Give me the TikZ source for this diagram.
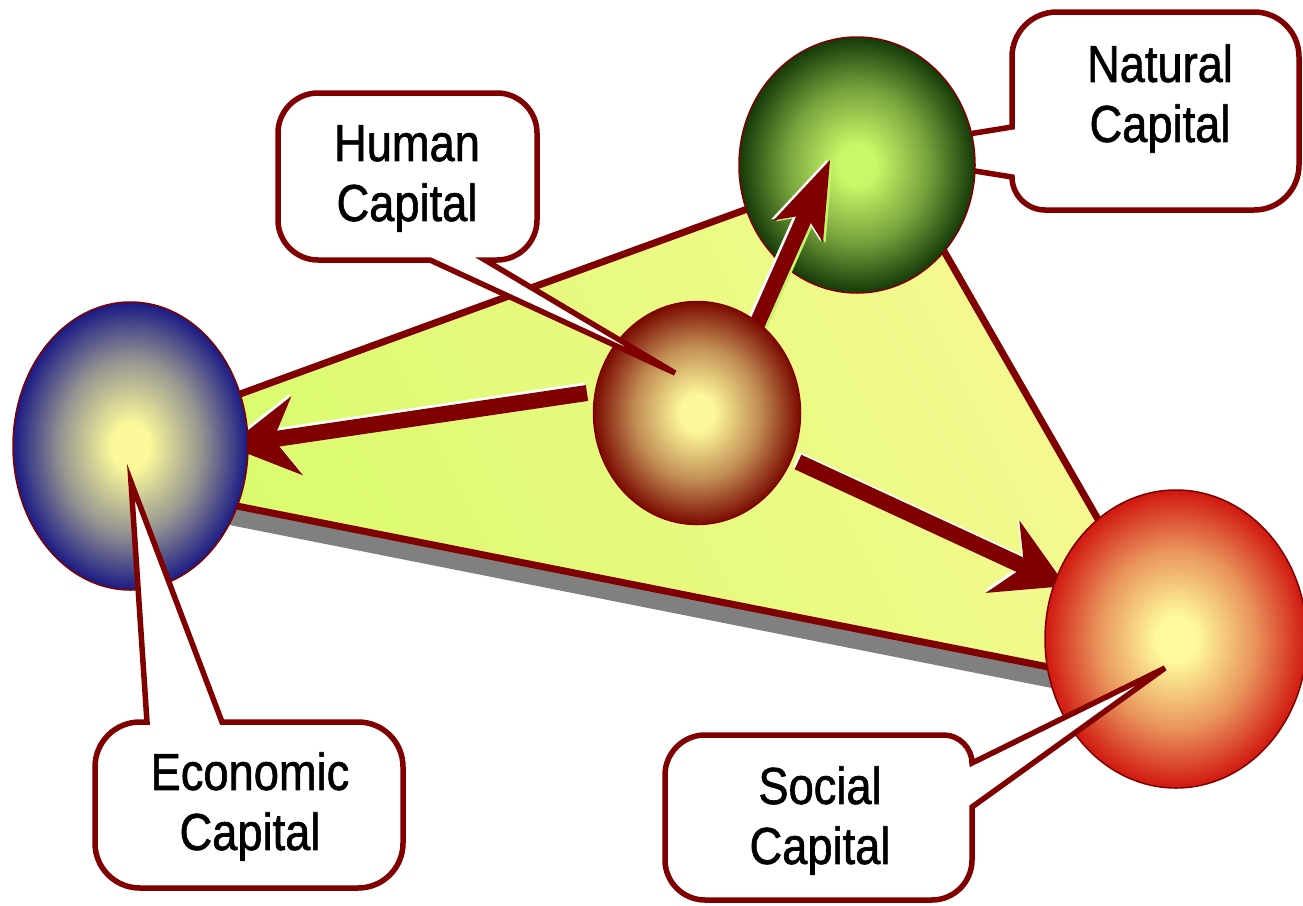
\documentclass[tikz,border=0pt]{standalone}
\usepackage{fontspec}
\setmainfont[FakeStretch=0.87,FakeBold=1.2]{Liberation Sans}
\usetikzlibrary{shapes.geometric,arrows.meta}
\definecolor{dred}{HTML}{800000}
\definecolor{shadowgray}{HTML}{808080}
\definecolor{trigreen}{HTML}{D6FB6A}
\definecolor{tripale}{HTML}{F7F993}
\definecolor{lime}{HTML}{C6F56A}
\definecolor{ecoin}{HTML}{FBF99A}
\definecolor{ecoout}{HTML}{1A1A85}
\definecolor{humin}{HTML}{FDF99A}
\definecolor{humout}{HTML}{7A0A00}
\definecolor{natin}{HTML}{C8F868}
\definecolor{natout}{HTML}{143A08}
\definecolor{socin}{HTML}{FEF99A}
\definecolor{socout}{HTML}{D01810}
\colorlet{ecomid}{ecoin!55!ecoout}
\colorlet{hummid}{humin!55!humout}
\colorlet{natmid}{natin!55!natout}
\colorlet{socmid}{socin!55!socout}
\pgfdeclareradialshading{ecoshade}{\pgfpoint{0bp}{0bp}}{color(0bp)=(ecoin); color(4bp)=(ecoin); color(15bp)=(ecomid); color(25bp)=(ecoout); color(50bp)=(ecoout)}
\pgfdeclareradialshading{humshade}{\pgfpoint{0bp}{0bp}}{color(0bp)=(humin); color(4bp)=(humin); color(15bp)=(hummid); color(25bp)=(humout); color(50bp)=(humout)}
\pgfdeclareradialshading{natshade}{\pgfpoint{0bp}{0bp}}{color(0bp)=(natin); color(4bp)=(natin); color(15bp)=(natmid); color(25bp)=(natout); color(50bp)=(natout)}
\pgfdeclareradialshading{socshade}{\pgfpoint{0bp}{0bp}}{color(0bp)=(socin); color(4bp)=(socin); color(15bp)=(socmid); color(25bp)=(socout); color(50bp)=(socout)}
\begin{document}
\begin{tikzpicture}[x=1pt,y=-1pt,
  ball/.style={ellipse, draw=dred, line width=1.5pt, inner sep=0pt, outer sep=0pt, shade},
  bigarr/.style={line width=16pt, -{Stealth[length=70pt,width=80pt,inset=24pt,line width=0pt]}},
  smallarr/.style={line width=16pt, -{Stealth[length=78pt,width=54pt,inset=18pt,line width=0pt]}},
  callout/.style={draw=dred, line width=5.5pt, fill=white, line join=miter},
  lbl/.style={font=\fontsize{52}{60}\selectfont, align=center, inner sep=0pt, text=black}]
\useasboundingbox (0,0) rectangle (1303,905);
\fill[white] (0,0) rectangle (1303,905);
% triangle
\coordinate (tA) at (40,467);
\coordinate (tB) at (890,157);
\coordinate (tC) at (1200,697);
\fill[shadowgray] ([shift={(-2,20)}]tA) -- ([shift={(-2,20)}]tB) -- ([shift={(-2,20)}]tC) -- cycle;
\shade[top color=trigreen, bottom color=tripale, shading angle=117] (tA) -- (tB) -- (tC) -- cycle;
\draw[dred, line width=7pt, line join=miter] (tA) -- (tB) -- (tC) -- cycle;
% natural callout (behind ball)
\coordinate (nattip) at (857,152);
\path[callout] (1057,12) -- (1254,12) .. controls (1279,12) and (1299,32) .. (1299,57) -- (1299,165) .. controls (1299,190) and (1279,210) .. (1254,210) -- (1045,210) .. controls (1027,210) and (1012,195) .. (1012,177) -- (nattip) -- (1012,127) -- (1012,57) .. controls (1012,32) and (1032,12) .. (1057,12) -- cycle;
% arrows behind balls
\coordinate (ecoS) at (587,393);
\coordinate (ecoT) at (228,446);
\coordinate (socS) at (798,462);
\coordinate (socT) at (1066,586);
\draw[bigarr, white] ([shift={(-1.5,-2.5)}]ecoS) -- ([shift={(-1.5,-2.5)}]ecoT);
\draw[bigarr, dred] (ecoS) -- (ecoT);
\draw[bigarr, white] ([shift={(-1.5,-2.5)}]socS) -- ([shift={(-1.5,-2.5)}]socT);
\draw[bigarr, dred] (socS) -- (socT);
% balls
\node[ball, minimum width=235pt, minimum height=288pt, shading=ecoshade] (eco) at (130.5,446) {};
\node[ball, minimum width=262pt, minimum height=298pt, shading=socshade] (soc) at (1176,639) {};
\node[ball, minimum width=236pt, minimum height=256pt, shading=natshade] (nat) at (857,165) {};
% natural arrow
\coordinate (natS) at (750,340);
\coordinate (natT) at (830,160);
\draw[smallarr, lime] ([shift={(2.5,1)}]natS) -- ([shift={(2.5,1)}]natT);
\draw[smallarr, white] ([shift={(-2.5,-1)}]natS) -- ([shift={(-2.5,-1)}]natT);
\draw[smallarr, dred] (natS) -- (natT);
\node[ball, minimum width=207pt, minimum height=223pt, shading=humshade] (hum) at (697,413) {};
% callouts on top
\coordinate (humtip) at (675,373);
\path[callout] (318,93) -- (497,93) .. controls (519,93) and (537,111) .. (537,133) -- (537,220) .. controls (537,242) and (519,260) .. (497,260) -- (485,260) -- (humtip) -- (430,260) -- (318,260) .. controls (296,260) and (278,242) .. (278,220) -- (278,133) .. controls (278,111) and (296,93) .. (318,93) -- cycle;
\coordinate (ecotip) at (131,482);
\path[callout] (140,722) -- (147,722) -- (ecotip) -- (222,722) -- (358,722) .. controls (383,722) and (403,742) .. (403,767) -- (403,843) .. controls (403,868) and (383,888) .. (358,888) -- (140,888) .. controls (115,888) and (95,868) .. (95,843) -- (95,767) .. controls (95,742) and (115,722) .. (140,722) -- cycle;
\coordinate (soctip) at (1165,668);
\path[callout] (705,735) -- (944,735) .. controls (959,735) and (972,748) .. (972,763) -- (soctip) -- (972,807) -- (972,860) .. controls (972,882) and (954,900) .. (932,900) -- (705,900) .. controls (683,900) and (665,882) .. (665,860) -- (665,775) .. controls (665,753) and (683,735) .. (705,735) -- cycle;
% labels
\node[lbl] (humlbl) at (407,178.5) {Human\\Capital};
\node[lbl] (natlbl) at (1160,98.5) {Natural\\Capital};
\node[lbl] (ecolbl) at (250,806.5) {Economic\\Capital};
\node[lbl] (soclbl) at (820,820.5) {Social\\Capital};
\end{tikzpicture}
\end{document}
